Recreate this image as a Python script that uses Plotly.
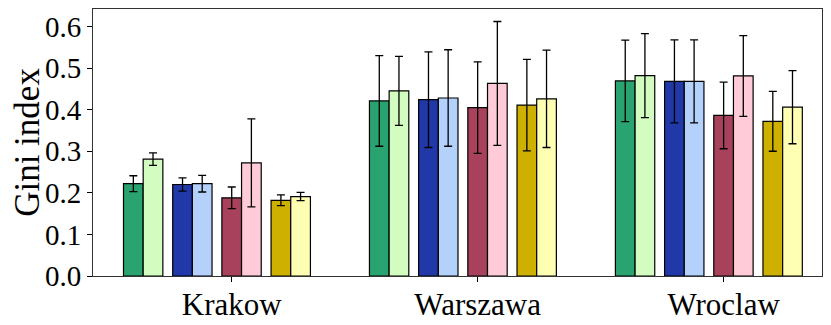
import plotly.graph_objects as go

cities = ["Krakow", "Warszawa", "Wroclaw"]

# mean Gini index and error (half-range) per series, per city
green = [0.222, 0.421, 0.469]
green_err = [0.019, 0.109, 0.098]
light_green = [0.281, 0.445, 0.482]
light_green_err = [0.015, 0.083, 0.101]
blue = [0.220, 0.424, 0.468]
blue_err = [0.016, 0.115, 0.100]
light_blue = [0.222, 0.428, 0.468]
light_blue_err = [0.020, 0.116, 0.100]
crimson = [0.188, 0.405, 0.386]
crimson_err = [0.026, 0.110, 0.080]
pink = [0.272, 0.463, 0.481]
pink_err = [0.106, 0.149, 0.097]
gold = [0.182, 0.411, 0.372]
gold_err = [0.013, 0.110, 0.072]
light_yellow = [0.191, 0.426, 0.406]
light_yellow_err = [0.010, 0.117, 0.088]

y_ticks = [0.0, 0.1, 0.2, 0.3, 0.4, 0.5, 0.6]

SERIES = [
    (green, green_err, "#29a36f", -0.44),
    (light_green, light_green_err, "#d2fcc0", -0.36),
    (blue, blue_err, "#2038a8", -0.24),
    (light_blue, light_blue_err, "#b3d1fb", -0.16),
    (crimson, crimson_err, "#a8425c", -0.04),
    (pink, pink_err, "#ffcbd8", 0.04),
    (gold, gold_err, "#cdb000", 0.16),
    (light_yellow, light_yellow_err, "#ffffb3", 0.24),
]

FONT = "Liberation Serif, Times New Roman, serif"

fig = go.Figure()
xs = list(range(len(cities)))
for vals, errs, color, off in SERIES:
    fig.add_trace(
        go.Bar(
            x=xs,
            y=vals,
            offset=off,
            width=0.08,
            marker=dict(color=color, line=dict(color="black", width=1.2)),
            error_y=dict(type="data", array=errs, color="black", thickness=1.3, width=4),
            showlegend=False,
        )
    )

# page body has an 8px default margin, so the figure is 8px smaller
fig.update_layout(
    width=823,
    height=317,
    barmode="overlay",
    paper_bgcolor="white",
    plot_bgcolor="white",
    margin=dict(l=85, r=9, t=1, b=49, autoexpand=False),
    font=dict(family=FONT, size=30, color="black"),
    xaxis=dict(
        range=[-0.564, 2.40],
        tickvals=xs,
        ticktext=cities,
        ticks="outside",
        ticklen=5,
        tickcolor="black",
        ticklabelstandoff=-4,
        showline=True,
        linecolor="#333",
        linewidth=1,
        mirror=True,
        showgrid=False,
        zeroline=False,
        automargin=False,
        tickfont=dict(size=31),
    ),
    yaxis=dict(
        range=[0, 0.642],
        tickvals=y_ticks,
        tickformat=".1f",
        ticks="outside",
        ticklen=5,
        tickcolor="black",
        showline=True,
        linecolor="#333",
        linewidth=1,
        mirror=True,
        showgrid=False,
        zeroline=False,
        automargin=False,
        title=dict(text="Gini index", standoff=8, font=dict(size=35)),
        tickfont=dict(size=29),
    ),
)

fig.write_html("out.html")
